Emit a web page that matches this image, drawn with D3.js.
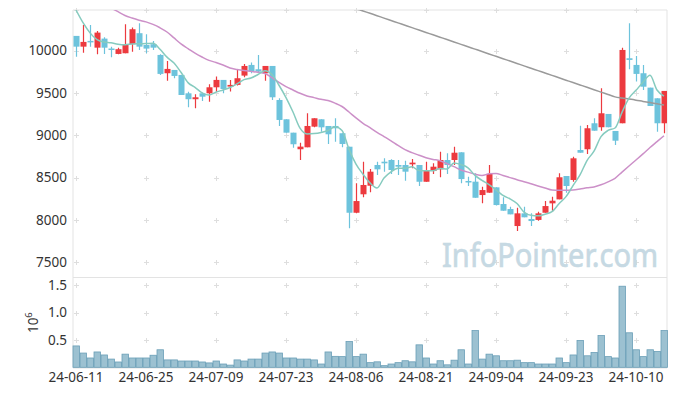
<!DOCTYPE html>
<html><head><meta charset="utf-8">
<script src="https://cdn.jsdelivr.net/npm/d3@7/dist/d3.min.js"></script>
<style>body{margin:0;background:#fff;} svg{display:block;font-family:"Noto Sans",sans-serif;}</style>
</head><body><svg id="chart" width="677" height="396"></svg>
<script>
const dates = ["24-06-11","24-06-12","24-06-13","24-06-14","24-06-17","24-06-18","24-06-19","24-06-20","24-06-21","24-06-24",
"24-06-25","24-06-26","24-06-27","24-06-28","24-07-01","24-07-02","24-07-03","24-07-04","24-07-05","24-07-08",
"24-07-09","24-07-10","24-07-11","24-07-12","24-07-15","24-07-16","24-07-17","24-07-18","24-07-19","24-07-22",
"24-07-23","24-07-24","24-07-25","24-07-26","24-07-29","24-07-30","24-07-31","24-08-01","24-08-02","24-08-05",
"24-08-06","24-08-07","24-08-08","24-08-09","24-08-12","24-08-13","24-08-14","24-08-16","24-08-19","24-08-20",
"24-08-21","24-08-22","24-08-23","24-08-26","24-08-27","24-08-28","24-08-29","24-08-30","24-09-02","24-09-03",
"24-09-04","24-09-05","24-09-06","24-09-09","24-09-10","24-09-11","24-09-12","24-09-13","24-09-19","24-09-20",
"24-09-23","24-09-24","24-09-25","24-09-26","24-09-27","24-09-30","24-10-02","24-10-04","24-10-07","24-10-08",
"24-10-10","24-10-11","24-10-14","24-10-15","24-10-16"];
const openP = [10174,10047,10115,10035,10142,10025,9961,9969,10076,10206,
10067,10076,9949,9733,9772,9713,9496,9426,9496,9496,
9567,9654,9575,9595,9705,9831,9780,9733,9819,9417,
9189,9031,8835,8858,9102,9189,9110,9110,9024,8865,
8085,8303,8404,8649,8688,8708,8649,8649,8657,8649,
8451,8578,8598,8708,8708,8799,8460,8452,8294,8322,
8385,8188,8129,7928,8078,8011,8000,8085,8196,8243,
8519,8472,8826,8835,9142,9095,9252,9051,9142,9910,
9831,9733,9563,9437,9142];
const highP = [10174,10304,10304,10233,10158,10047,10035,10312,10272,10324,
10194,10115,9957,9878,9772,9713,9515,9485,9504,9603,
9693,9654,9654,9772,9843,9860,9949,9819,9819,9437,
9189,9031,8913,9260,9201,9189,9110,9201,9024,8865,
8433,8688,8602,8688,8728,8716,8708,8700,8720,8649,
8688,8669,8806,8787,8865,8799,8511,8551,8392,8649,
8385,8267,8156,8144,8156,8078,8097,8223,8274,8551,
8519,8747,9114,9122,9201,9556,9252,9051,10035,10324,
9937,9831,9563,9437,9524];
const lowP = [9929,9976,10047,9957,9961,9922,9957,9969,9988,10008,
9969,10008,9713,9645,9674,9476,9331,9319,9405,9397,
9515,9497,9516,9587,9686,9733,9748,9645,9417,9110,
9031,8854,8708,8858,9094,9043,8897,8925,8858,7901,
8078,8267,8326,8531,8570,8543,8531,8463,8610,8401,
8451,8543,8504,8543,8649,8433,8401,8262,8196,8322,
8170,8109,8066,7869,8031,7928,7991,8085,8097,8243,
8322,8452,8794,8779,9054,9054,9095,8885,9142,9780,
9634,9535,9346,9043,9024];
const closeP = [10047,10103,10105,10213,10035,10010,10017,10076,10253,10047,
10024,10035,9725,9784,9701,9476,9426,9449,9456,9567,
9654,9547,9595,9674,9819,9752,9752,9819,9449,9181,
9031,8894,8866,9110,9201,9094,9012,9083,8897,8085,
8223,8413,8570,8598,8669,8590,8629,8570,8677,8451,
8578,8629,8708,8649,8794,8483,8444,8262,8353,8543,
8176,8109,8066,8078,8031,7987,8078,8164,8227,8504,
8401,8728,8794,9083,9054,9260,9095,8936,10008,9890,
9725,9574,9346,9142,9524];
const volume = [0.39,0.26,0.17,0.28,0.225,0.15,0.097,0.24,0.17,0.17,
0.17,0.22,0.32,0.135,0.135,0.115,0.115,0.115,0.097,0.08,
0.115,0.06,0.04,0.135,0.115,0.15,0.15,0.26,0.28,0.26,
0.17,0.17,0.15,0.15,0.135,0.06,0.28,0.2,0.195,0.47,
0.195,0.24,0.085,0.10,0.03,0.06,0.085,0.12,0.10,0.41,
0.17,0.06,0.12,0.045,0.13,0.32,0.06,0.67,0.15,0.24,
0.21,0.12,0.12,0.13,0.085,0.085,0.06,0.06,0.06,0.17,
0.085,0.225,0.49,0.21,0.27,0.58,0.195,0.17,1.48,0.63,
0.32,0.195,0.32,0.29,0.67];
const ma5 = [10480,10330,10210,10130,10101,10093,10076,10070,10078,10081,
10083,10087,10017,9923,9854,9744,9622,9567,9502,9475,
9510,9535,9564,9607,9658,9677,9718,9763,9718,9591,
9446,9275,9084,9016,9020,9033,9057,9100,9057,8834,
8660,8540,8438,8378,8495,8568,8611,8611,8627,8583,
8581,8581,8609,8603,8672,8653,8616,8526,8467,8417,
8356,8289,8249,8194,8092,8054,8048,8068,8097,8192,
8275,8405,8531,8702,8812,8984,9057,9086,9271,9438,
9531,9627,9709,9535,9462];
const ma20 = [10700,10660,10620,10580,10540,10500,10460,10415,10385,10360,
10340,10310,10270,10220,10150,10080,10025,9970,9925,9885,
9860,9830,9795,9778,9765,9755,9745,9730,9680,9625,
9575,9535,9496,9465,9445,9425,9410,9380,9340,9275,
9205,9142,9090,9035,8985,8935,8880,8830,8795,8765,
8735,8715,8700,8665,8630,8590,8565,8540,8525,8545,
8550,8525,8500,8475,8452,8427,8402,8378,8353,8350,
8350,8353,8365,8380,8390,8415,8450,8492,8565,8637,
8708,8780,8855,8925,8995];
const ma60 = [null,null,null,null,null,null,null,null,null,null,
null,null,null,null,null,null,null,null,null,null,
null,null,null,null,null,null,null,null,null,null,
null,null,null,null,null,null,10610,10582,10554,10525,
10497,10469,10441,10413,10384,10356,10328,10300,10272,10243,
10215,10187,10159,10131,10102,10074,10046,10018,9990,9961,
9933,9905,9877,9849,9820,9792,9764,9736,9708,9679,
9651,9623,9595,9567,9538,9510,9482,9454,9440,9428,
9415,9400,9386,9372,9358];
const priceTicks = [7500,8000,8500,9000,9500,10000];
const volTicks = [0.5,1.0,1.5];
const dateTicks = ["24-06-11","24-06-25","24-07-09","24-07-23","24-08-06","24-08-21","24-09-04","24-09-23","24-10-10"];

const svg = d3.select("#chart");
const L = 73, R = 667, PT = 10, PB = 277.5, VT = 278, VB = 367.3;

const x = d3.scaleBand().domain(dates).range([72.5, 667.5]).padding(0);
const yP = d3.scaleLinear().domain([7320, 10480]).range([PB, PT]);
const yV = d3.scaleLinear().domain([0, 1.63]).range([VB, VT]);
const cx = d => x(d) + x.bandwidth() / 2;

svg.append("defs").append("clipPath").attr("id", "pclip")
  .append("rect").attr("x", L).attr("y", PT).attr("width", R - L).attr("height", PB - PT);

// frame lines
const frame = svg.append("g").attr("stroke", "#e3e3e3").attr("stroke-width", 1).attr("fill", "none");
frame.append("line").attr("x1", L).attr("x2", R).attr("y1", PT).attr("y2", PT);
frame.append("line").attr("x1", L).attr("x2", R).attr("y1", PB).attr("y2", PB);
frame.append("line").attr("x1", L).attr("x2", L).attr("y1", PT).attr("y2", VB);
frame.append("line").attr("x1", R).attr("x2", R).attr("y1", PT).attr("y2", VB);
svg.append("line").attr("x1", L).attr("x2", R).attr("y1", VB + 0.5).attr("y2", VB + 0.5)
  .attr("stroke", "#cfcfcf");

// grid crosses
const crossG = svg.append("g").attr("stroke", "#dedede").attr("stroke-width", 1);
const crossYs = priceTicks.map(v => yP(v)).concat(volTicks.map(v => yV(v)), [PT]);
dateTicks.forEach(d => {
  crossYs.forEach(yy => {
    const xx = Math.round(cx(d)) + 0.5, y0 = Math.round(yy) + 0.5;
    crossG.append("line").attr("x1", xx - 2.5).attr("x2", xx + 2.5).attr("y1", y0).attr("y2", y0);
    crossG.append("line").attr("x1", xx).attr("x2", xx).attr("y1", y0 - 2.5).attr("y2", y0 + 2.5);
  });
});

// watermark (drawn over the grid crosses)
svg.append("text").attr("x", 442).attr("y", 266.5).attr("font-size", 33)
  .attr("textLength", 216).attr("lengthAdjust", "spacingAndGlyphs")
  .attr("fill", "#c6d9e3").attr("stroke", "#c6d9e3").attr("stroke-width", 0.7)
  .text("InfoPointer.com");

// axis labels
const axP = svg.append("g").attr("transform", `translate(${L - 5},0)`)
  .call(d3.axisLeft(yP).tickValues(priceTicks).tickSize(0).tickPadding(1).tickFormat(d3.format("d")));
const axV = svg.append("g").attr("transform", `translate(${L - 5},0)`)
  .call(d3.axisLeft(yV).tickValues(volTicks).tickSize(0).tickPadding(1).tickFormat(d3.format(".1f")));
const axX = svg.append("g").attr("transform", `translate(0,${VB + 2})`)
  .call(d3.axisBottom(x).tickValues(dateTicks).tickSize(0).tickPadding(3));
[axP, axV, axX].forEach(g => {
  g.select(".domain").remove();
  g.selectAll("text").attr("font-size", 13.5).attr("fill", "#333").attr("font-family", "Noto Sans, sans-serif");
});

// 10^6 label
const vl = svg.append("text").attr("transform", `translate(38,${(VT + VB) / 2}) rotate(-90)`)
  .attr("text-anchor", "middle").attr("font-size", 13.5).attr("fill", "#333");
vl.append("tspan").text("10");
vl.append("tspan").attr("dy", -6).attr("font-size", 9.5).text("6");

// volume bars
svg.append("g").selectAll("rect").data(dates).join("rect")
  .attr("x", d => x(d) + 0.5).attr("width", x.bandwidth() - 0.5)
  .attr("y", (d, i) => yV(volume[i])).attr("height", (d, i) => VB - yV(volume[i]))
  .attr("fill", "#9cc1d1").attr("stroke", "#6a9fb7").attr("stroke-width", 0.8);

// candles
const pg = svg.append("g").attr("clip-path", "url(#pclip)");
const up = "#ec3a3f", down = "#6dc3dc";
const cg = pg.append("g");
dates.forEach((d, i) => {
  const col = closeP[i] >= openP[i] ? up : down;
  const xc = Math.round(cx(d)) + 0.5;
  cg.append("line").attr("x1", xc).attr("x2", xc).attr("y1", yP(highP[i])).attr("y2", yP(lowP[i]))
    .attr("stroke", col).attr("stroke-width", 1.2);
  const yt = yP(Math.max(openP[i], closeP[i])), yb = yP(Math.min(openP[i], closeP[i]));
  cg.append("rect").attr("x", xc - 3).attr("width", 6).attr("y", yt).attr("height", Math.max(1.5, yb - yt))
    .attr("fill", col);
});

// moving average lines
const mkLine = arr => d3.line().defined((v, i) => arr[i] != null)
  .x((v, i) => cx(dates[i])).y(v => yP(v)).curve(d3.curveMonotoneX)(arr);
pg.append("path").attr("d", mkLine(ma60)).attr("fill", "none").attr("stroke", "#9a9a9a").attr("stroke-width", 1.5);
pg.append("path").attr("d", mkLine(ma20)).attr("fill", "none").attr("stroke", "#cc90c8").attr("stroke-width", 1.5);
pg.append("path").attr("d", mkLine(ma5)).attr("fill", "none").attr("stroke", "#86cbbf").attr("stroke-width", 1.5);
</script></body></html>
